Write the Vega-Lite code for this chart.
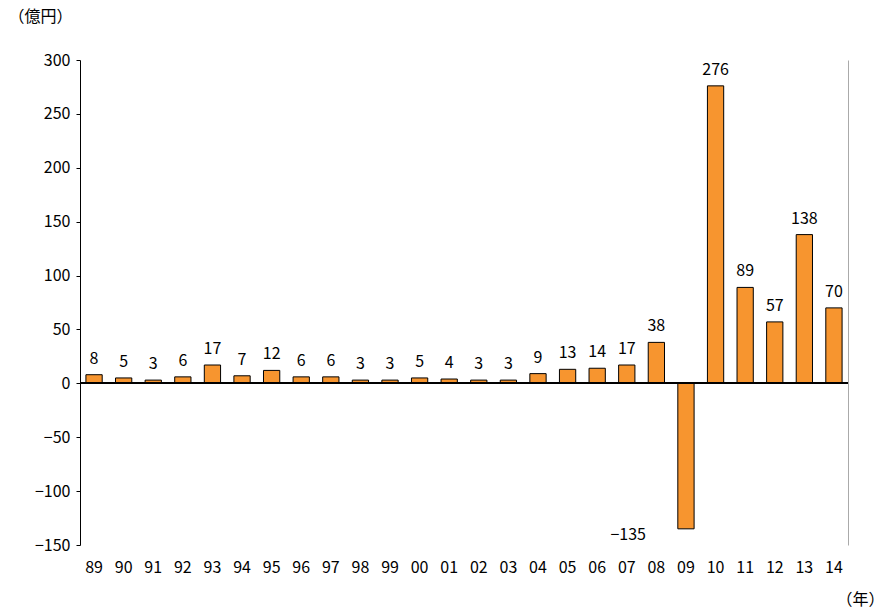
{
  "$schema": "https://vega.github.io/schema/vega-lite/v6.json",
  "width": 768,
  "height": 485,
  "autosize": "none",
  "padding": {"left": 80, "top": 60, "right": 38, "bottom": 66},
  "background": "white",
  "config": {
    "view": {"stroke": null},
    "font": "Noto Sans CJK JP",
    "axis": {"labelFont": "Noto Sans CJK JP", "titleFont": "Noto Sans CJK JP", "labelColor": "black", "titleColor": "black", "grid": false}
  },
  "data": {
    "values": [
      {"year": "89", "v": 8}, {"year": "90", "v": 5}, {"year": "91", "v": 3},
      {"year": "92", "v": 6}, {"year": "93", "v": 17}, {"year": "94", "v": 7},
      {"year": "95", "v": 12}, {"year": "96", "v": 6}, {"year": "97", "v": 6},
      {"year": "98", "v": 3}, {"year": "99", "v": 3}, {"year": "00", "v": 5},
      {"year": "01", "v": 4}, {"year": "02", "v": 3}, {"year": "03", "v": 3},
      {"year": "04", "v": 9}, {"year": "05", "v": 13}, {"year": "06", "v": 14},
      {"year": "07", "v": 17}, {"year": "08", "v": 38}, {"year": "09", "v": -135},
      {"year": "10", "v": 276}, {"year": "11", "v": 89}, {"year": "12", "v": 57},
      {"year": "13", "v": 138}, {"year": "14", "v": 70}
    ]
  },
  "resolve": {"axis": {"y": "independent"}},
  "layer": [
    {
      "encoding": {
        "x": {
          "field": "year", "type": "nominal", "sort": null,
          "scale": {"paddingInner": 0.45, "paddingOuter": 0.2},
          "axis": {"title": "（年）", "titleFontSize": 16, "titleFontWeight": "normal", "titleAnchor": "end", "titleAlign": "right", "titleX": 804, "titleY": 46, "labelAngle": 0, "labelFontSize": 16, "labelPadding": 14, "domain": false, "ticks": false}
        },
        "y": {
          "field": "v", "type": "quantitative",
          "scale": {"domain": [-150, 300]},
          "axis": {"title": "（億円）", "titleAngle": 0, "titleFontSize": 16, "titleFontWeight": "normal", "titleX": -40, "titleY": -36, "titleAlign": "center", "values": [-150, -100, -50, 0, 50, 100, 150, 200, 250, 300], "labelFontSize": 16, "labelPadding": 6, "domainColor": "black", "tickColor": "black", "tickSize": 4}
        }
      },
      "layer": [
        {"mark": {"type": "bar", "color": "#F7952F", "stroke": "black", "strokeWidth": 1}},
        {"transform": [{"filter": "datum.v >= 0"}], "mark": {"type": "text", "baseline": "bottom", "dy": -8, "fontSize": 16}, "encoding": {"text": {"field": "v", "type": "quantitative"}}},
        {"transform": [{"filter": "datum.v < 0"}], "mark": {"type": "text", "baseline": "middle", "align": "right", "dx": -40, "dy": 6, "fontSize": 16}, "encoding": {"text": {"field": "v", "type": "quantitative", "format": "d"}}}
      ]
    },
    {
      "mark": {"type": "rule", "color": "black", "strokeWidth": 1},
      "encoding": {"y": {"datum": 0, "type": "quantitative", "scale": {"domain": [-150, 300]}, "axis": {"orient": "right", "labels": false, "ticks": false, "title": null, "domainColor": "#aaaaaa"}}}
    }
  ]
}
